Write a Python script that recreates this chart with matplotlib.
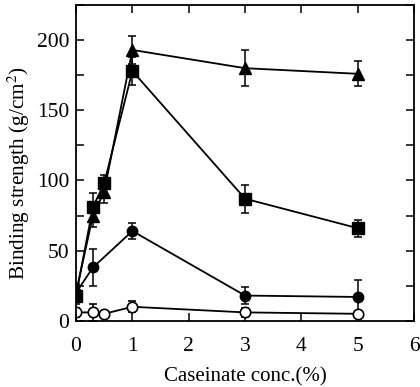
import matplotlib
matplotlib.use('Agg')
import matplotlib.pyplot as plt
from matplotlib.ticker import MultipleLocator

# Caseinate concentration (%)
conc = [0, 0.3, 0.5, 1, 3, 5]
conc_circle = [0, 0.3, 1, 3, 5]

# Binding strength (g/cm2) and error bars
triangle = [20, 75, 92, 193, 180, 176]
triangle_err = [6, 8, 8, 10, 13, 9]
square = [18, 81, 98, 178, 87, 66]
square_err = [6, 10, 6, 10, 10, 6]
circle = [20, 38, 64, 18, 17]
circle_err = [5, 13, 6, 6, 12]
open_circle = [6, 6, 5, 10, 6, 5]
open_circle_err = [3, 6, 2, 4, 3, 2]

plt.rcParams['font.family'] = ['Liberation Serif', 'DejaVu Serif']
plt.rcParams['mathtext.fontset'] = 'stix'

fig = plt.figure(figsize=(4.2, 3.87), dpi=100)
ax = fig.add_axes([0.181, 0.171, 0.805, 0.816])

common = dict(color='black', linewidth=1.3, elinewidth=1.1, capsize=3, capthick=1.1)
ax.errorbar(conc, open_circle, yerr=open_circle_err, marker='o', markersize=7.5,
            markerfacecolor='white', markeredgewidth=1.2, **common)
ax.errorbar(conc_circle, circle, yerr=circle_err, marker='o', markersize=7.5, **common)
ax.errorbar(conc, triangle, yerr=triangle_err, marker='^', markersize=8, **common)
ax.errorbar(conc, square, yerr=square_err, marker='s', markersize=8, **common)

ax.set_xlim(0, 6)
ax.set_ylim(0, 225)
ax.xaxis.set_major_locator(MultipleLocator(1))
ax.yaxis.set_major_locator(MultipleLocator(50))
ax.yaxis.set_minor_locator(MultipleLocator(25))
ax.tick_params(which='both', direction='in', top=True, right=True, width=1.1)
ax.tick_params(which='major', length=6, labelsize=15.5)
ax.tick_params(which='minor', length=6)
ax.tick_params(axis='x', pad=12)
ax.tick_params(axis='y', pad=5)
for s in ax.spines.values():
    s.set_linewidth(1.3)

ax.set_xlabel('Caseinate conc.(%)', fontsize=15, labelpad=8)
ax.set_ylabel('Binding strength (g/cm$^2$)', fontsize=15.3)
ax.yaxis.set_label_coords(-0.13, 0.468)

fig.savefig('out.png', dpi=100)
